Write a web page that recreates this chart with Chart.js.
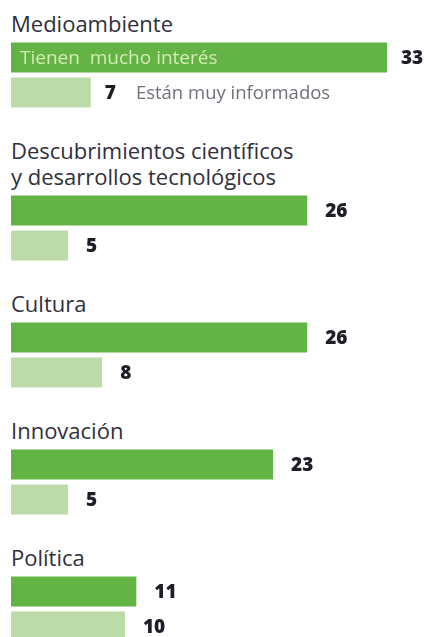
<!DOCTYPE html>
<html lang="es">
<head>
    <meta charset="UTF-8">
    <title>Interés e información por temas</title>
    <style>
        body {
            margin: 0;
            background: #fff;
            font-family: "Open Sans", sans-serif;
            width: 428px;
            height: 637px;
            overflow: hidden;
        }
        .grupo {
            margin-top: 27px;
        }
        .grupo:first-child {
            margin-top: 9.5px;
        }
        .titulo {
            font-size: 22px;
            font-weight: 500;
            line-height: 26px;
            color: #30303c;
            padding-left: 11px;
            margin-bottom: 4px;
        }
        .grafico {
            margin-left: 11px;
            width: 417px;
            height: 70px;
        }
        canvas {
            display: block;
        }
    </style>
</head>
<body>
    <div id="contenedor"></div>

    <script src="https://cdn.jsdelivr.net/npm/chart.js"></script>
    <script>
        const temas = [
            ['Medioambiente'],
            ['Descubrimientos científicos', 'y desarrollos tecnológicos'],
            ['Cultura'],
            ['Innovación'],
            ['Política']
        ];
        const interes = [33, 26, 26, 23, 11];
        const informados = [7, 5, 8, 5, 10];
        const series = ['Tienen  mucho interés', 'Están muy informados'];

        const verdeOscuro = '#63b345';
        const verdeClaro = '#bddba8';

        // numbers to the right of each bar, and the series names in the first group
        const etiquetas = {
            id: 'etiquetas',
            afterDatasetsDraw(chart, args, opts) {
                const ctx = chart.ctx;
                const fuenteNum = '800 19px "Open Sans"';
                ctx.save();
                ctx.textBaseline = 'middle';
                chart.data.datasets.forEach((ds, i) => {
                    const bar = chart.getDatasetMeta(i).data[0];
                    const valor = String(ds.data[0]);
                    ctx.font = fuenteNum;
                    ctx.fillStyle = '#1e1e28';
                    ctx.textAlign = 'left';
                    const xv = bar.x + opts.gap;
                    ctx.fillText(valor, xv, bar.y + 1);

                    if (opts.leyenda) {
                        if (i === 0) {
                            ctx.font = '19px "Open Sans"';
                            ctx.fillStyle = '#d2ecb2';
                            ctx.fillText(ds.label, bar.base + 9, bar.y + 1);
                        } else {
                            const w = ctx.measureText(valor).width;
                            ctx.font = '18.5px "Open Sans"';
                            ctx.fillStyle = '#70707a';
                            ctx.fillText(ds.label, xv + w + 20, bar.y + 1);
                        }
                    }
                });
                ctx.restore();
            }
        };

        const contenedor = document.getElementById('contenedor');

        temas.forEach((tema, i) => {
            const grupo = document.createElement('div');
            grupo.className = 'grupo';
            const titulo = document.createElement('div');
            titulo.className = 'titulo';
            titulo.innerHTML = tema.join('<br>');
            const caja = document.createElement('div');
            caja.className = 'grafico';
            const canvas = document.createElement('canvas');
            caja.appendChild(canvas);
            grupo.appendChild(titulo);
            grupo.appendChild(caja);
            contenedor.appendChild(grupo);

            new Chart(canvas, {
                type: 'bar',
                data: {
                    labels: [tema.join(' ')],
                    datasets: [
                        { label: series[0], data: [interes[i]], backgroundColor: verdeOscuro },
                        { label: series[1], data: [informados[i]], backgroundColor: verdeClaro }
                    ]
                },
                options: {
                    indexAxis: 'y',
                    responsive: true,
                    maintainAspectRatio: false,
                    animation: false,
                    layout: { padding: 0 },
                    datasets: {
                        bar: { categoryPercentage: 1, barPercentage: 30 / 35 }
                    },
                    scales: {
                        x: { display: false, min: 0, max: 36.6 },
                        y: { display: false }
                    },
                    plugins: {
                        legend: { display: false },
                        tooltip: { enabled: false },
                        etiquetas: { gap: i === 0 ? 14 : 18, leyenda: i === 0 }
                    }
                },
                plugins: [etiquetas]
            });
        });
    </script>
</body>
</html>
